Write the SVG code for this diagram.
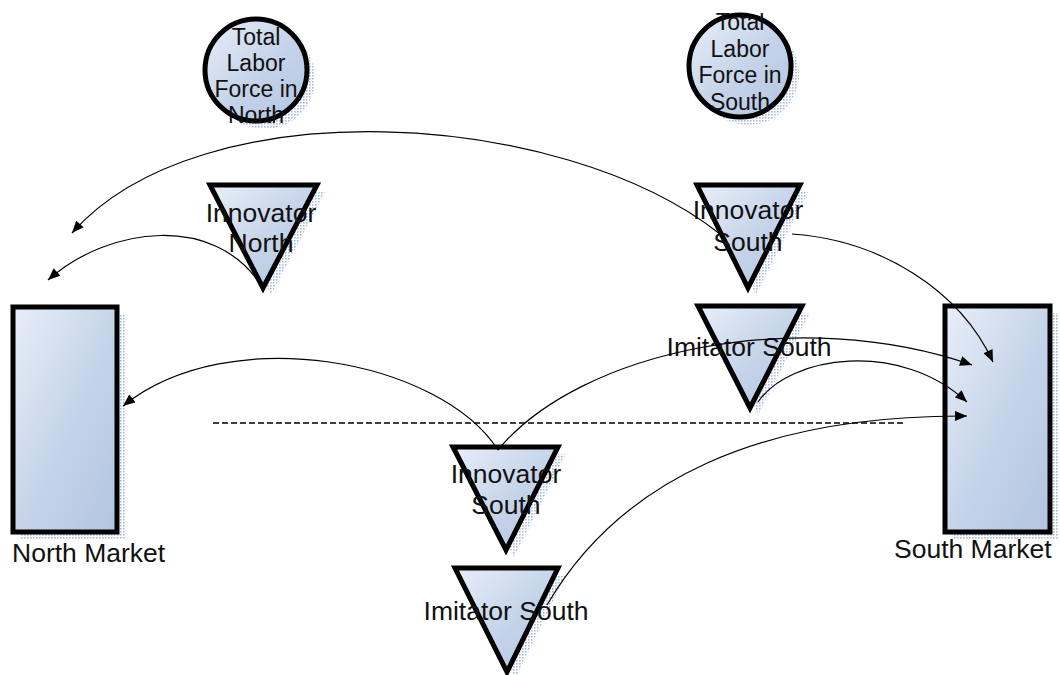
<svg xmlns="http://www.w3.org/2000/svg" width="1060" height="675" viewBox="0 0 1060 675">
<defs>
<linearGradient id="fill" x1="0" y1="0" x2="1" y2="1">
<stop offset="0" stop-color="#e8eef8"/>
<stop offset="0.55" stop-color="#c4d3e9"/>
<stop offset="1" stop-color="#b2c5e0"/>
</linearGradient>
<pattern id="dots" width="3" height="3" patternUnits="userSpaceOnUse">
<rect x="0" y="0" width="1.6" height="1.6" fill="#a6bbe3"/>
</pattern>
<marker id="arr" viewBox="0 0 12 10" refX="12" refY="5" markerWidth="13" markerHeight="10" markerUnits="userSpaceOnUse" orient="auto">
<path d="M0,0 L12,5 L0,10 z" fill="#000"/>
</marker>
<clipPath id="clipN"><rect x="190" y="10" width="140" height="116"/></clipPath>
<clipPath id="clipS"><rect x="670" y="13" width="150" height="115"/></clipPath>
</defs>
<style>
.shape{fill:url(#fill);stroke:#000;stroke-width:5;stroke-linejoin:miter}
.shadow{fill:url(#dots);stroke:none}
.lbl{font-family:"Liberation Sans",Arial,sans-serif;font-size:26.5px;fill:#111;text-anchor:middle}
.clbl{font-family:"Liberation Sans",Arial,sans-serif;font-size:23px;fill:#111;text-anchor:middle}
.mlbl{font-family:"Liberation Sans",Arial,sans-serif;font-size:26.5px;fill:#111}
.conn{fill:none;stroke:#000;stroke-width:1.2;marker-end:url(#arr)}
.dash{fill:none;stroke:#000;stroke-width:1.5;stroke-dasharray:6,3}
</style>

<g id="north-market">
<rect class="shadow" x="21" y="314" width="104" height="225"/>
<rect class="shape" x="13" y="307" width="104" height="225"/>
<text class="mlbl" x="12" y="562">North Market</text>
</g>

<g id="south-market">
<rect class="shadow" x="953" y="313" width="105" height="226"/>
<rect class="shape" x="945" y="306" width="105" height="226"/>
<text class="mlbl" x="894" y="558">South Market</text>
</g>

<g id="labor-north">
<circle class="shadow" cx="264" cy="78" r="51"/>
<circle class="shape" cx="256" cy="70" r="51"/>
<g clip-path="url(#clipN)">
<text class="clbl" x="256" y="45">Total</text>
<text class="clbl" x="256" y="71">Labor</text>
<text class="clbl" x="256" y="97">Force in</text>
<text class="clbl" x="256" y="123">North</text>
</g>
</g>

<g id="labor-south">
<circle class="shadow" cx="748" cy="74" r="51"/>
<circle class="shape" cx="740" cy="66" r="51"/>
<g clip-path="url(#clipS)">
<text class="clbl" x="740" y="30">Total</text>
<text class="clbl" x="740" y="57">Labor</text>
<text class="clbl" x="740" y="83">Force in</text>
<text class="clbl" x="740" y="110">South</text>
</g>
</g>

<g id="innovator-north">
<polygon class="shadow" points="218,192 325,192 271,295"/>
<polygon class="shape" points="210,185 317,185 263,288"/>
<text class="lbl" x="261" y="222">Innovator</text>
<text class="lbl" x="261" y="252">North</text>
</g>

<g id="innovator-south-top">
<polygon class="shadow" points="705,192 808,192 756,295"/>
<polygon class="shape" points="697,185 800,185 748,288"/>
<text class="lbl" x="748" y="219">Innovator</text>
<text class="lbl" x="748" y="251">South</text>
</g>

<g id="imitator-south-top">
<polygon class="shadow" points="706,313 810,313 758,415"/>
<polygon class="shape" points="698,306 802,306 750,408"/>
<text class="lbl" x="749" y="356">Imitator South</text>
</g>

<g id="innovator-south-bottom">
<polygon class="shadow" points="461,454 566,454 514,557"/>
<polygon class="shape" points="453,447 558,447 506,550"/>
<text class="lbl" x="506" y="483">Innovator</text>
<text class="lbl" x="506" y="514">South</text>
</g>

<g id="imitator-south-bottom">
<polygon class="shadow" points="463,575 566,575 515,679"/>
<polygon class="shape" points="455,568 558,568 507,672"/>
<text class="lbl" x="506" y="620">Imitator South</text>
</g>

<g id="connectors">
<line class="dash" x1="213" y1="423" x2="903" y2="423"/>
<path class="conn" d="M720,234 C560,108 200,88 72,233"/>
<path class="conn" d="M260,284 C215,215 110,225 48,280"/>
<path class="conn" d="M792,234 C880,240 960,290 993,362"/>
<path class="conn" d="M498,450 C580,350 800,305 972,365"/>
<path class="conn" d="M758,402 C790,355 900,340 967,402"/>
<path class="conn" d="M498,450 C440,360 230,320 123,406"/>
<path class="conn" d="M547,605 C620,480 760,415 967,416"/>
</g>
</svg>
